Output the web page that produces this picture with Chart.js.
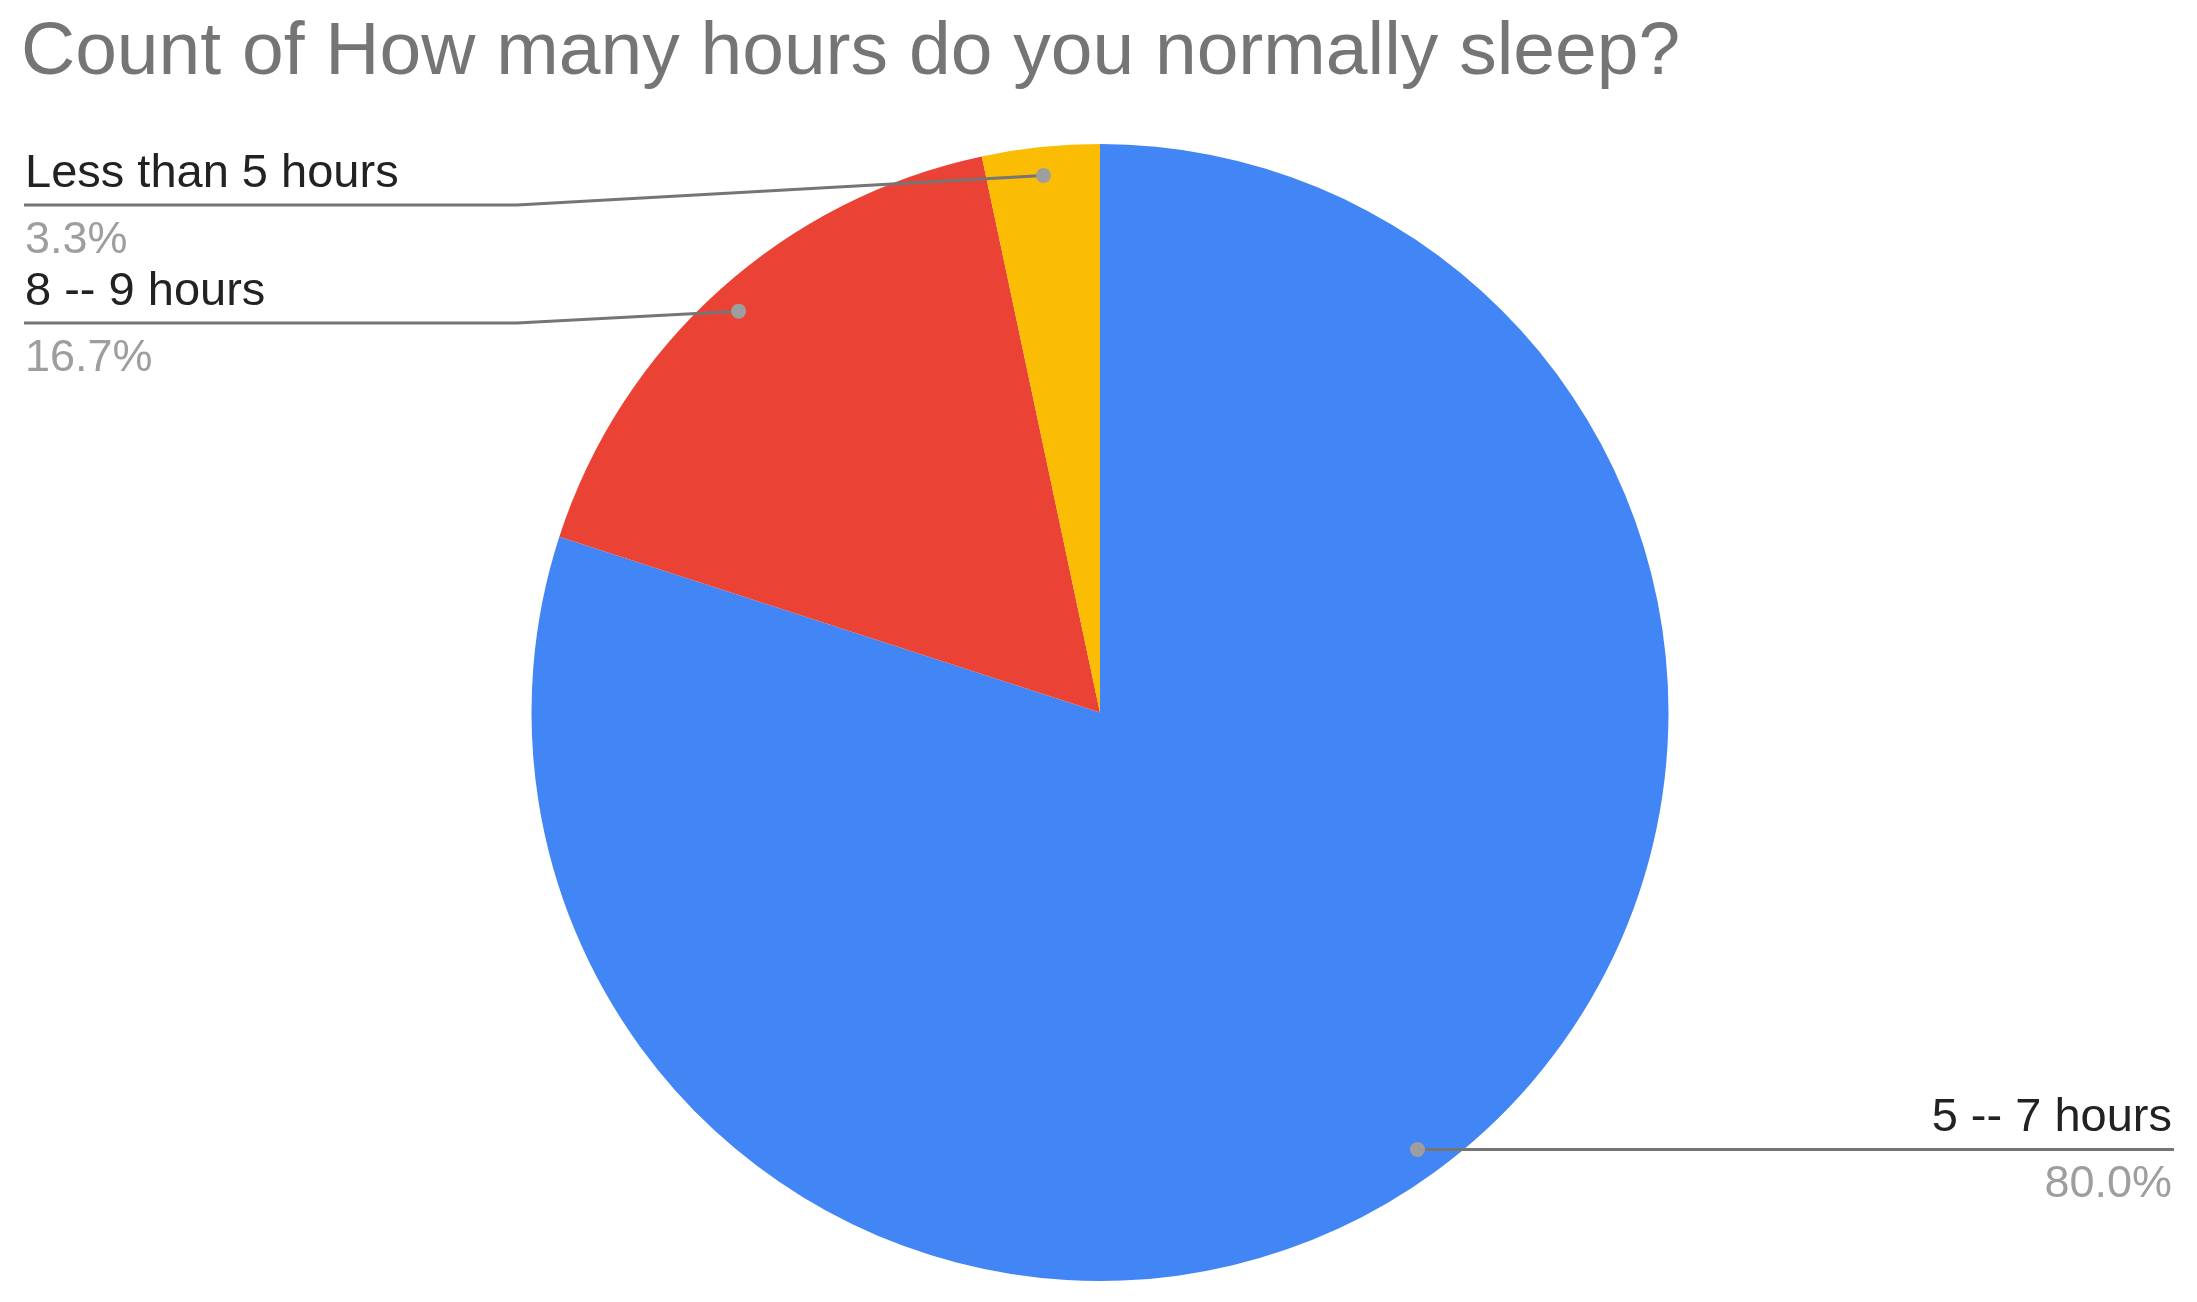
<!DOCTYPE html>
<html>
<head>
<meta charset="utf-8">
<script src="https://cdn.jsdelivr.net/npm/chart.js@4.4.1/dist/chart.umd.min.js"></script>
<style>
  html, body { margin: 0; padding: 0; background: #ffffff; }
  #wrap { width: 2197px; height: 1302px; position: relative; }
</style>
</head>
<body>
<div id="wrap"><canvas id="graph1"></canvas></div>
<script>
// data
const chartTitle = 'Count of How many hours do you normally sleep?';
const categories = ['5 -- 7 hours', '8 -- 9 hours', 'Less than 5 hours'];
const counts = [24, 5, 1];
const sliceColors = ['#4285f4', '#ea4335', '#fbbc04'];

const fontFamily = "'Liberation Sans', Arial, Helvetica, sans-serif";

// leader lines + labels, placed from the arc elements that Chart.js laid out
const leaderLabels = {
    id: 'leaderLabels',
    afterDatasetsDraw(chart) {
        const ctx = chart.ctx;
        const meta = chart.getDatasetMeta(0);
        const total = counts.reduce((a, b) => a + b, 0);
        const area = chart.chartArea;

        let items = [];
        meta.data.forEach((arc, i) => {
            const p = arc.getProps(['x', 'y', 'startAngle', 'endAngle', 'outerRadius'], true);
            const mid = (p.startAngle + p.endAngle) / 2;
            const r = p.outerRadius * 0.95;
            items.push({
                label: categories[i],
                pct: (counts[i] / total * 100).toFixed(1) + '%',
                dx: p.x + Math.cos(mid) * r,
                dy: p.y + Math.sin(mid) * r,
                right: Math.cos(mid) > 0
            });
        });

        // left side labels are stacked from the top
        let left = items.filter(it => !it.right).sort((a, b) => a.dy - b.dy);
        left.forEach((it, k) => {
            it.lineY = area.top + 61 + k * 118;
        });
        items.filter(it => it.right).forEach(it => {
            it.lineY = it.dy;
        });

        ctx.save();
        ctx.lineWidth = 3;
        ctx.strokeStyle = '#757575';
        for (let it of items) {
            ctx.beginPath();
            if (it.right) {
                ctx.moveTo(it.dx, it.lineY);
                ctx.lineTo(2174, it.lineY);
            } else {
                ctx.moveTo(24, it.lineY);
                ctx.lineTo(517, it.lineY);
                ctx.lineTo(it.dx, it.dy);
            }
            ctx.stroke();
        }
        ctx.fillStyle = '#9e9e9e';
        for (let it of items) {
            ctx.beginPath();
            ctx.arc(it.dx, it.dy, 7.5, 0, Math.PI * 2);
            ctx.fill();
        }

        ctx.textBaseline = 'alphabetic';
        for (let it of items) {
            const x = it.right ? 2172 : 25;
            ctx.textAlign = it.right ? 'right' : 'left';
            ctx.font = '47px ' + fontFamily;
            ctx.fillStyle = '#222222';
            ctx.fillText(it.label, x, it.lineY - 18);
            ctx.font = '45px ' + fontFamily;
            ctx.fillStyle = '#9e9e9e';
            ctx.fillText(it.pct, x, it.lineY + 48);
        }
        ctx.restore();
    }
};

window.addEventListener('load', function () {
    const ctx = document.getElementById('graph1').getContext('2d');
    const myChart = new Chart(ctx, {
        type: 'pie',
        data: {
            labels: categories,
            datasets: [{
                data: counts,
                backgroundColor: sliceColors,
                borderWidth: 0
            }]
        },
        options: {
            responsive: true,
            maintainAspectRatio: false,
            animation: false,
            layout: {
                padding: { left: 21, right: 18, top: 0, bottom: 21 }
            },
            plugins: {
                legend: { display: false },
                tooltip: { enabled: false },
                title: {
                    display: true,
                    text: chartTitle,
                    align: 'start',
                    color: '#757575',
                    font: { family: fontFamily, size: 75, weight: 'normal', lineHeight: 1.2 },
                    padding: { top: 8, bottom: 46 }
                }
            }
        },
        plugins: [leaderLabels]
    });
});
</script>
</body>
</html>
